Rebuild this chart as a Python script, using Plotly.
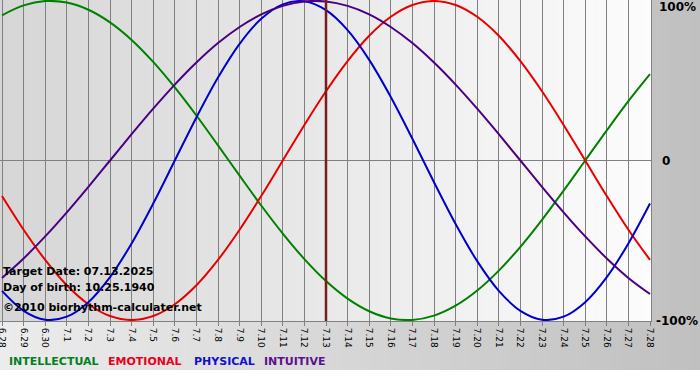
import plotly.graph_objects as go

dates = ["6.28", "6.29", "6.30", "7.1", "7.2", "7.3", "7.4", "7.5", "7.6", "7.7", "7.8", "7.9",
         "7.10", "7.11", "7.12", "7.13", "7.14", "7.15", "7.16", "7.17", "7.18", "7.19", "7.20",
         "7.21", "7.22", "7.23", "7.24", "7.25", "7.26", "7.27", "7.28"]
physical = [-0.817, -0.942, -0.998, -0.979, -0.888, -0.731, -0.520, -0.270, 0.000, 0.270, 0.520,
            0.731, 0.888, 0.979, 0.998, 0.942, 0.817, 0.631, 0.398, 0.136, -0.136, -0.398, -0.631,
            -0.817, -0.942, -0.998, -0.979, -0.888, -0.731, -0.520, -0.270]
emotional = [-0.223, -0.434, -0.623, -0.782, -0.901, -0.975, -1.000, -0.975, -0.901, -0.782, -0.623,
             -0.434, -0.223, 0.000, 0.223, 0.434, 0.623, 0.782, 0.901, 0.975, 1.000, 0.975, 0.901,
             0.782, 0.623, 0.434, 0.223, 0.000, -0.223, -0.434, -0.623]
intellectual = [0.910, 0.972, 0.999, 0.990, 0.945, 0.866, 0.756, 0.618, 0.458, 0.282, 0.095, -0.095,
                -0.282, -0.458, -0.618, -0.756, -0.866, -0.945, -0.990, -0.999, -0.972, -0.910,
                -0.815, -0.690, -0.541, -0.372, -0.189, 0.000, 0.189, 0.372, 0.541]
intuitive = [-0.736, -0.614, -0.476, -0.325, -0.165, 0.000, 0.165, 0.325, 0.476, 0.614, 0.736, 0.837,
             0.916, 0.969, 0.997, 0.997, 0.969, 0.916, 0.837, 0.736, 0.614, 0.476, 0.325, 0.165,
             0.000, -0.165, -0.325, -0.476, -0.614, -0.736, -0.837]
target_index = 15
info_lines = ["Target Date: 07.13.2025", "Day of birth: 10.25.1940", "\u00a92010 biorhythm-calculater.net"]
legend_names = ["INTELLECTUAL", "EMOTIONAL", "PHYSICAL", "INTUITIVE"]

W, H = 700, 380
ML, MR, MT, MB = 0, 49, 0, 59
PW, PH = W - ML - MR, H - MT - MB
FONT = "DejaVu Sans"

x = list(range(len(dates)))
fig = go.Figure()
series = [
    (intellectual, "#008000"),
    (emotional, "#e80000"),
    (physical, "#0000cc"),
    (intuitive, "#4b0082"),
]
for vals, col in series:
    fig.add_trace(go.Scatter(x=x, y=vals, mode="lines",
                             line=dict(color=col, width=2, shape="spline", smoothing=1.0),
                             hoverinfo="skip", showlegend=False))

def px2paper_x(px):
    return (px - ML) / PW

def px2paper_y(py):
    return (MT + PH - py) / PH

def mix(c1, c2, t):
    return "rgb(%d,%d,%d)" % tuple(round(a + (b - a) * t) for a, b in zip(c1, c2))

shapes = []
shapes.append(dict(type="rect", xref="paper", yref="paper", x0=px2paper_x(0), x1=px2paper_x(W),
                   y0=px2paper_y(H), y1=px2paper_y(370), fillcolor="white", line=dict(width=0), layer="below"))
N = 70
for i in range(N):
    x0 = W * i / N
    x1 = W * (i + 1) / N + 0.6
    shapes.append(dict(type="rect", xref="paper", yref="paper", x0=px2paper_x(x0), x1=px2paper_x(x1),
                       y0=px2paper_y(370), y1=px2paper_y(0),
                       fillcolor=mix((236, 236, 236), (192, 192, 192), i / (N - 1)),
                       line=dict(width=0), layer="below"))
M = 70
for i in range(M):
    x0 = PW * i / M
    x1 = PW * (i + 1) / M + 0.6
    shapes.append(dict(type="rect", xref="paper", yref="paper", x0=x0 / PW, x1=min(x1 / PW, 1.0),
                       y0=0, y1=1,
                       fillcolor=mix((214, 214, 214), (252, 252, 252), i / (M - 1)),
                       line=dict(width=0), layer="below"))
shapes.append(dict(type="line", xref="x", yref="paper", x0=target_index, x1=target_index, y0=0, y1=1,
                   line=dict(color="#7a1c1c", width=2.5), layer="above"))

annotations = []
for i, t in enumerate(info_lines):
    pyc = [271, 287, 307][i]
    annotations.append(dict(text="<b>%s</b>" % t, xref="paper", yref="paper", x=px2paper_x(1),
                            y=px2paper_y(pyc), xanchor="left", yanchor="middle", showarrow=False,
                            font=dict(family=FONT, size=11, color="black")))
leg_cols = ["#008020", "#e8001c", "#1010cc", "#5a1090"]
leg_x = [7, 106, 192, 262]
for name, col, lx in zip(legend_names, leg_cols, leg_x):
    annotations.append(dict(text="<b>%s</b>" % name, xref="paper", yref="paper", x=px2paper_x(lx),
                            y=px2paper_y(362), xanchor="left", yanchor="middle", showarrow=False,
                            font=dict(family=FONT, size=11, color=col)))
for lab, pyc, xs in [("100%", 7, 6), ("0", 161, 9), ("-100%", 321, 3)]:
    annotations.append(dict(text="<b>%s</b>" % lab, xref="paper", yref="paper", x=1, xshift=xs,
                            y=px2paper_y(pyc), xanchor="left", yanchor="middle", showarrow=False,
                            font=dict(family=FONT, size=12, color="black")))

span = 30.0 * PW / 648.0
x0r = -2.0 * 30.0 / 648.0
fig.update_layout(
    width=W, height=H, margin=dict(l=ML, r=MR, t=MT, b=MB, pad=0, autoexpand=False),
    paper_bgcolor="white", plot_bgcolor="rgba(0,0,0,0)",
    shapes=shapes, annotations=annotations,
    xaxis=dict(range=[x0r, x0r + span], tickvals=x, ticktext=dates, tickangle=90,
               tickfont=dict(family=FONT, size=9, color="black"), ticklabeloverflow="allow",
               automargin=False,
               showgrid=True, gridcolor="#808080", gridwidth=1,
               ticks="outside", ticklen=4, tickcolor="#808080",
               showline=True, linecolor="#808080", mirror=True, zeroline=False, fixedrange=True),
    yaxis=dict(range=[-1.006, 1.006], showgrid=False, zeroline=True, zerolinecolor="#808080",
               zerolinewidth=1, showticklabels=False, ticks="", showline=True, linecolor="#808080",
               mirror=True, fixedrange=True, automargin=False),
)
fig.write_html("out.html")
